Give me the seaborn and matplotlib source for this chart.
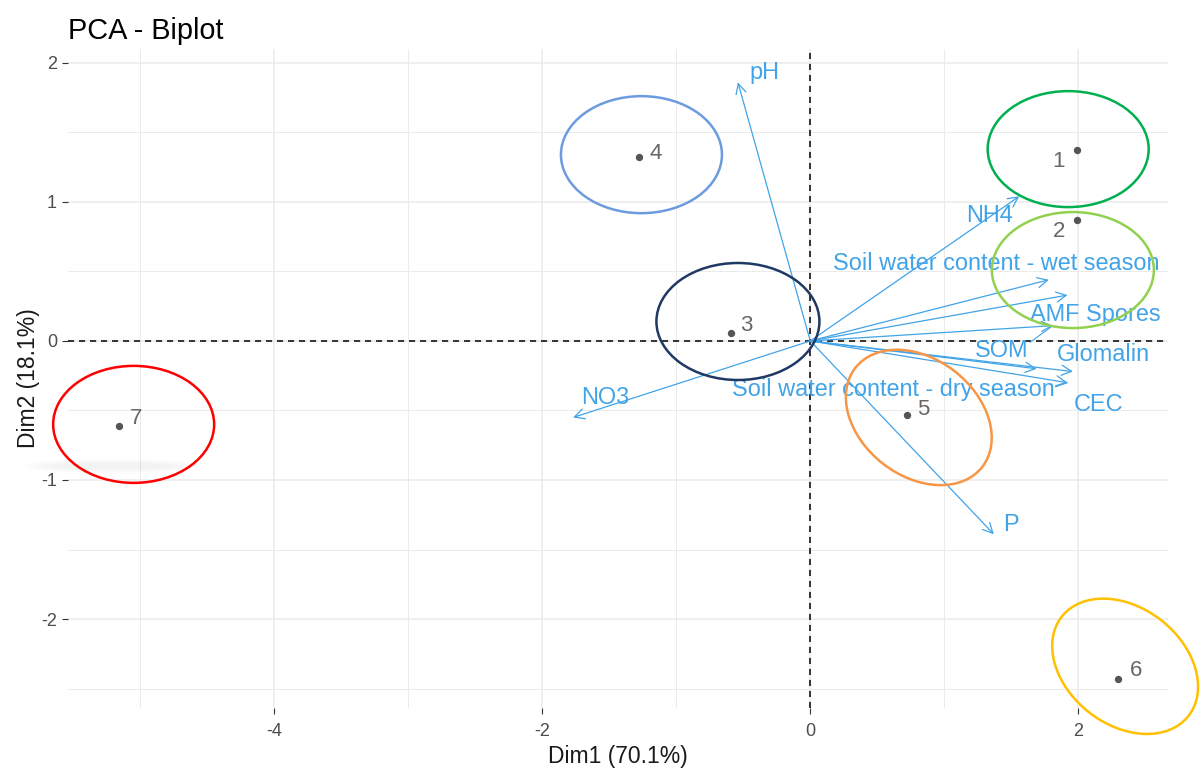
import matplotlib
matplotlib.use("Agg")
import matplotlib.pyplot as plt
import matplotlib.transforms as mtransforms
from matplotlib.patches import Ellipse
from matplotlib.ticker import MultipleLocator
import pandas as pd
import seaborn as sns

# Individuals (sites) on the first two principal dimensions
sites = ["1", "2", "3", "4", "5", "6", "7"]
dim1_ind = [1.99, 1.99, -0.59, -1.28, 0.72, 2.30, -5.16]
dim2_ind = [1.37, 0.87, 0.06, 1.32, -0.53, -2.43, -0.61]
# repelled label positions for the sites
site_lab_x = [1.85, 1.86, -0.48, -1.15, 0.84, 2.43, -5.03]
site_lab_y = [1.29, 0.79, 0.11, 1.35, -0.495, -2.37, -0.56]

# Variable loadings (arrow tips)
variables = ["pH", "NH4", "Soil water content - wet season", "AMF Spores", "SOM",
             "Soil water content - dry season", "Glomalin", "CEC", "NO3", "P"]
dim1_var = [-0.54, 1.56, 1.78, 1.92, 1.81, 1.92, 1.96, 1.69, -1.77, 1.37]
dim2_var = [1.86, 1.04, 0.44, 0.33, 0.11, -0.30, -0.22, -0.20, -0.55, -1.39]
# repelled label positions for the variables
var_lab_x = [-0.34, 1.34, 1.39, 2.13, 1.43, 0.62, 2.19, 2.15, -1.53, 1.50]
var_lab_y = [1.93, 0.90, 0.56, 0.19, -0.07, -0.35, -0.10, -0.46, -0.41, -1.32]
# connector segments from a label edge to its arrow tip
connectors = {"SOM": (1.64, -0.01), "Soil water content - dry season": (1.83, -0.33)}

# Group outlines: centre (Dim1, Dim2), size in inches, rotation, colour
group_cx = [1.925, 1.96, -1.26, -0.54, -5.05, 0.81, 2.35]
group_cy = [1.38, 0.51, 1.34, 0.14, -0.60, -0.55, -2.34]
group_w = [1.61, 1.62, 1.61, 1.63, 1.61, 1.61, 1.61]
group_h = [1.16, 1.16, 1.17, 1.17, 1.17, 1.17, 1.17]
group_angle = [0, 0, 0, 0, 0, -38, -38]
group_colors = ["#00b050", "#92d050", "#6c9be0", "#1f3864", "#ff0000", "#f79646", "#ffc000"]

ind = pd.DataFrame({"Dim1": dim1_ind, "Dim2": dim2_ind, "site": sites})

sns.set_theme(style="whitegrid")
plt.rcParams["font.family"] = ["Liberation Sans", "DejaVu Sans"]
plt.rcParams["axes.unicode_minus"] = False

VAR_COL = "#41a3e8"
fig = plt.figure(figsize=(12, 7.69), dpi=100)
ax = fig.add_axes([68 / 1200, 1 - 708 / 769, 1100 / 1200, 659 / 769])

ax.set_xlim(-5.54, 2.67)
ax.set_ylim(-2.64, 2.10)

# grid
ax.xaxis.set_major_locator(MultipleLocator(2))
ax.xaxis.set_minor_locator(MultipleLocator(1))
ax.yaxis.set_major_locator(MultipleLocator(1))
ax.yaxis.set_minor_locator(MultipleLocator(0.5))
ax.grid(which="major", color="#ebebeb", lw=1.1)
ax.grid(which="minor", color="#ebebeb", lw=0.7)
ax.set_axisbelow(True)
for s in ax.spines.values():
    s.set_visible(False)
ax.set_facecolor("white")
ax.tick_params(which="major", length=4.5, width=0.8, color="#333333",
               labelsize=13, labelcolor="#4d4d4d", bottom=True, left=True)
ax.tick_params(axis="x", pad=6)
ax.tick_params(axis="y", pad=3.5)
ax.tick_params(which="minor", length=0)
ax.set_xticks([-4, -2, 0, 2])
ax.set_yticks([-2, -1, 0, 1, 2])

# reference lines through the origin
ax.axhline(0, color="black", lw=1.1, ls=(0, (4, 3.2)), zorder=2)
ax.axvline(0, color="black", lw=1.1, ls=(0, (4, 3.2)), zorder=2)

# variable arrows
for name, x, y, lx, ly in zip(variables, dim1_var, dim2_var, var_lab_x, var_lab_y):
    ax.annotate("", xy=(x, y), xytext=(0, 0),
                arrowprops=dict(arrowstyle="->,head_length=0.55,head_width=0.28",
                                color=VAR_COL, lw=0.9, shrinkA=0, shrinkB=0,
                                mutation_scale=13), zorder=3)
    ax.text(lx, ly, name, color=VAR_COL, fontsize=16.9, ha="center", va="center", zorder=4)
    if name in connectors:
        cx, cy = connectors[name]
        ax.plot([cx, x], [cy, y], color=VAR_COL, lw=0.8, zorder=3)

# individuals
sns.scatterplot(data=ind, x="Dim1", y="Dim2", color="#555555", s=28,
                linewidth=0, ax=ax, zorder=5)
for lab, lx, ly in zip(sites, site_lab_x, site_lab_y):
    ax.text(lx, ly, lab, color="#6b6662", fontsize=16, ha="center", va="center", zorder=5)

# faint shadow under the red outline
shadow_tr = fig.dpi_scale_trans + mtransforms.ScaledTranslation(-5.22, -0.90, ax.transData)
for k in range(6):
    ax.add_patch(Ellipse((0, 0), 1.8 - 0.12 * k, 0.15 - 0.018 * k, transform=shadow_tr,
                         facecolor="#a8a8a8", edgecolor="none", alpha=0.02,
                         clip_on=False, zorder=1))

# group outlines
for cx, cy, w, h, a, c in zip(group_cx, group_cy, group_w, group_h, group_angle, group_colors):
    tr = fig.dpi_scale_trans + mtransforms.ScaledTranslation(cx, cy, ax.transData)
    ax.add_patch(Ellipse((0, 0), w, h, angle=a, transform=tr, facecolor="none",
                         edgecolor=c, lw=1.8, clip_on=False, zorder=6))

ax.set_xlabel("Dim1 (70.1%)", fontsize=16.5, color="#1a1a1a", labelpad=4)
ax.set_ylabel("Dim2 (18.1%)", fontsize=16.5, color="#1a1a1a", labelpad=1)
ax.set_title("PCA - Biplot", loc="left", fontsize=20.8, color="black", pad=7)

fig.savefig("out.png", dpi=100, facecolor="white")
